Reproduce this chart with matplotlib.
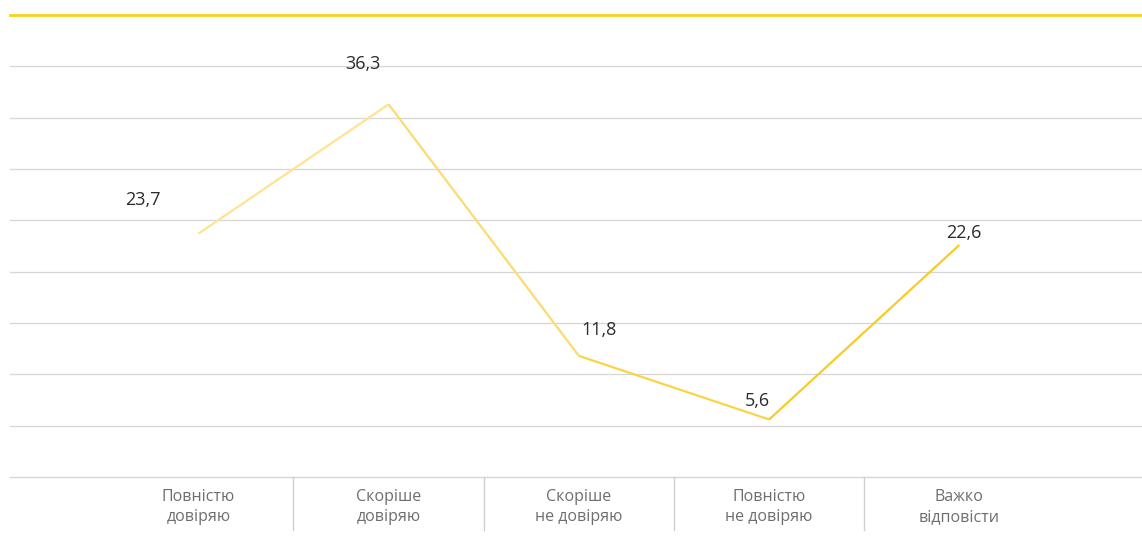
import numpy as np
import matplotlib.pyplot as plt
from matplotlib.collections import LineCollection
from matplotlib.colors import LinearSegmentedColormap
import matplotlib.transforms as mtransforms

plt.rcParams['font.family'] = ['Open Sans', 'DejaVu Sans']

categories = ['Повністю\nдовіряю', 'Скоріше\nдовіряю', 'Скоріше\nне довіряю',
              'Повністю\nне довіряю', 'Важко\nвідповісти']
values = [23.7, 36.3, 11.8, 5.6, 22.6]
value_labels = ['23,7', '36,3', '11,8', '5,6', '22,6']

# label offsets from each point, in pixels
label_offsets = [(-55, 34), (-26, 40), (20, 26), (-12, 19), (4, 12)]

fig = plt.figure(figsize=(11.42, 5.42), dpi=100)
ax = fig.add_axes([10 / 1142, 65 / 542, 1132 / 1142, 462 / 542])

x = np.arange(len(values))
ax.set_xlim(-0.99, 4.96)
ax.set_ylim(0, 45)

# horizontal grid
for yv in np.arange(5, 45, 5):
    ax.axhline(yv, color='#d6d6d6', lw=0.9, zorder=0)
ax.axhline(45, color='#f9d21c', lw=2, zorder=1, clip_on=False)
ax.axhline(0, color='#d6d6d6', lw=1, zorder=1, clip_on=False)

# line with a light-to-saturated yellow gradient
cmap = LinearSegmentedColormap.from_list('yel', ['#fee596', '#f8c925'])
pts = np.column_stack([x, values])
segs = np.stack([pts[:-1], pts[1:]], axis=1)
lc = LineCollection(segs, colors=cmap(np.linspace(0.05, 0.95, len(segs))),
                    linewidths=1.6, capstyle='butt', joinstyle='miter', zorder=3)
ax.add_collection(lc)

for xi, v, txt, (dx, dy) in zip(x, values, value_labels, label_offsets):
    ax.annotate(txt, (xi, v), xytext=(dx, dy), textcoords='offset pixels',
                ha='center', va='center', fontsize=13, color='#2b2b2b')

# category labels and separators below the axis
trans = mtransforms.blended_transform_factory(ax.transData, ax.transAxes)
for xi, cat in zip(x, categories):
    ax.text(xi, -0.026, cat, transform=trans, ha='center', va='top',
            fontsize=11.5, color='#6e6e6e', linespacing=1.32)
for xs in x[:-1] + 0.5:
    ax.plot([xs, xs], [0, -53 / 462], transform=trans, color='#cfcfcf',
            lw=1, clip_on=False)

ax.set_xticks([])
ax.set_yticks([])
for sp in ax.spines.values():
    sp.set_visible(False)

fig.savefig('out.png', dpi=100)
